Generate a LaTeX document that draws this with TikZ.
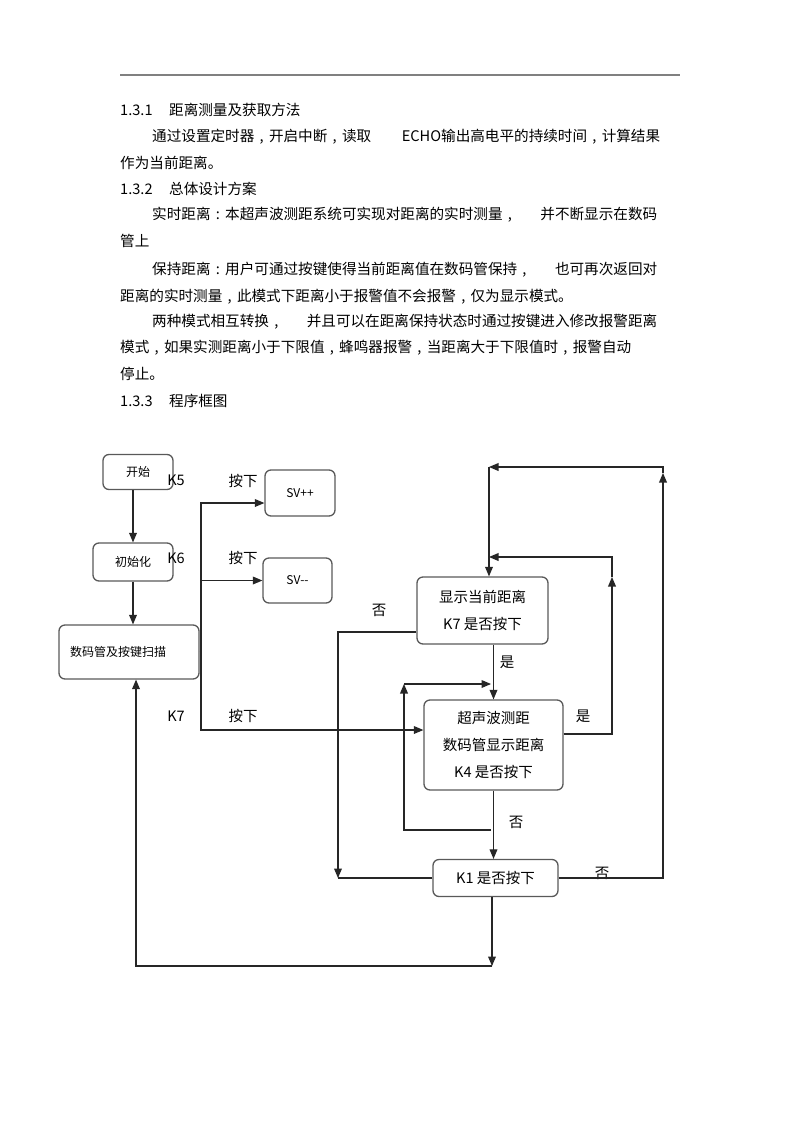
\documentclass[tikz,border=0pt]{standalone}
\usepackage{fontspec}
\setmainfont{Noto Sans CJK SC}
\usetikzlibrary{arrows,positioning}
\newcommand{\zcomma}{\makebox[1em]{,}}
\newcommand{\zcolon}{\makebox[1em]{:}}

\begin{document}
\begin{tikzpicture}[>=triangle 45,x=1pt,y=-1pt,
  line/.style={line width=1.2pt,draw=black!85},
  blk/.style={draw=black!65,line width=1.3pt,rounded corners=6pt,inner sep=0pt,align=center},
  para/.style={anchor=west,inner sep=0pt,font=\fontsize{14.6}{17}\selectfont},
  big/.style={font=\fontsize{14.5}{27}\selectfont},
  small/.style={font=\fontsize{12}{14}\selectfont},
  lbl/.style={inner sep=0pt,font=\fontsize{14.5}{17}\selectfont}]
\useasboundingbox (0,0) rectangle (800,1133);
\draw[black!50,line width=1.4pt] (120,75) -- (680,75);
% text above the chart
\node[para] (p1) at (120,110) {\makebox[49pt][l]{1.3.1}距离测量及获取方法};
\node[para] (p2) at (152,137) {\hbox to 508pt{通过设置定时器\zcomma 开启中断\zcomma 读取\hfill ECHO输出高电平的持续时间\zcomma 计算结果}};
\node[para] (p3) at (120,163) {作为当前距离。};
\node[para] (p4) at (120,189) {\makebox[49pt][l]{1.3.2}总体设计方案};
\node[para] (p5) at (152,215) {\hbox to 505pt{实时距离\zcolon 本超声波测距系统可实现对距离的实时测量\zcomma\hfill 并不断显示在数码}};
\node[para] (p6) at (120,241) {管上};
\node[para] (p7) at (152,270) {\hbox to 505pt{保持距离\zcolon 用户可通过按键使得当前距离值在数码管保持\zcomma\hfill 也可再次返回对}};
\node[para] (p8) at (120,297) {距离的实时测量\zcomma 此模式下距离小于报警值不会报警\zcomma 仅为显示模式。};
\node[para] (p9) at (152,322) {\hbox to 505pt{两种模式相互转换\zcomma\hfill 并且可以在距离保持状态时通过按键进入修改报警距离}};
\node[para] (p10) at (120,348) {模式\zcomma 如果实测距离小于下限值\zcomma 蜂鸣器报警\zcomma 当距离大于下限值时\zcomma 报警自动};
\node[para] (p11) at (120,374) {停止。};
\node[para] (p12) at (120,401) {\makebox[49pt][l]{1.3.3}程序框图};

% boxes
\node[blk,small,minimum width=70pt,minimum height=35pt] (start) at (138,472) {开始};
\node[blk,small,minimum width=80pt,minimum height=38pt] (init) at (133,562) {初始化};
\node[blk,small,minimum height=54pt,text width=118pt,inner xsep=11pt,align=left] (scan) at (129,652) {数码管及按键扫描};
\node[blk,small,minimum width=70pt,minimum height=46pt] (svp) at (300,493) {SV++};
\node[blk,small,minimum width=69pt,minimum height=45pt] (svm) at (297.5,580.5) {SV-{}-};
\node[blk,big,minimum width=131pt,minimum height=67pt] (disp) at (482.5,610.5) {显示当前距离\\K7 是否按下};
\node[blk,big,minimum width=139pt,minimum height=90pt] (ultra) at (493.5,745) {超声波测距\\数码管显示距离\\K4 是否按下};
\node[blk,big,minimum width=125pt,minimum height=37pt] (k1) at (495.5,878) {K1 是否按下};

% key labels
\node[lbl] (k5) at (176,480) {K5};
\node[lbl] (k6) at (176,558) {K6};
\node[lbl] (k7) at (176,716) {K7};
\node[lbl] (pr5) at (243,481) {按下};
\node[lbl] (pr6) at (243,558) {按下};
\node[lbl] (pr7) at (243,716) {按下};
\node[lbl] (no1) at (379,610) {否};
\node[lbl] (yes1) at (507,662) {是};
\node[lbl] (yes2) at (583,716) {是};
\node[lbl] (no2) at (516,822) {否};
\node[lbl] (no3) at (602,873) {否};

% bends
\coordinate (bus) at (201,652);
\coordinate (top) at (489,467);
\coordinate (mid) at (489,557);
\coordinate (ret1) at (612,577);
\coordinate (ret2) at (663,473);
\coordinate (nojoin) at (338,878);
\coordinate (lp) at (404,684);
\coordinate (lpb) at (491,830);
\coordinate (bot) at (492,966);

% connectors
\draw[line,->] (start.south -| init.north) -- (init.north);
\draw[line,->] (init.south) -- (init.south |- scan.north);
\draw[line] (scan.east) -- (bus);
\draw[line,->] (bus) |- ([yshift=-10pt]svp.west);
\draw[line,->] (bus) |- (svm.west);
\draw[line,->] (bus) |- ([yshift=15pt]ultra.west);
\draw[line,->] (top) -- (top |- disp.north);
\draw[line,->] (ultra.north |- disp.south) -- (ultra.north);
\draw[line,->] ([yshift=-21.5pt]disp.west) -| (nojoin);
\draw[line] (k1.west) -- (nojoin);
\draw[line,->] ([yshift=11pt]ultra.east) -| (ret1);
\draw[line,->] (ret1) |- (mid);
\draw[line,->] (k1.east) -| (ret2);
\draw[line,->] (ret2) |- (top);
\draw[line,->] (ultra.south) -- (ultra.south |- k1.north);
\draw[line,->] (lpb) -| (lp);
\draw[line,->] (lp) -- (lp -| lpb);
\draw[line,->] (bot |- k1.south) -- (bot);
\draw[line,->] (bot) -| ([xshift=7pt]scan.south);
\end{tikzpicture}
\end{document}
